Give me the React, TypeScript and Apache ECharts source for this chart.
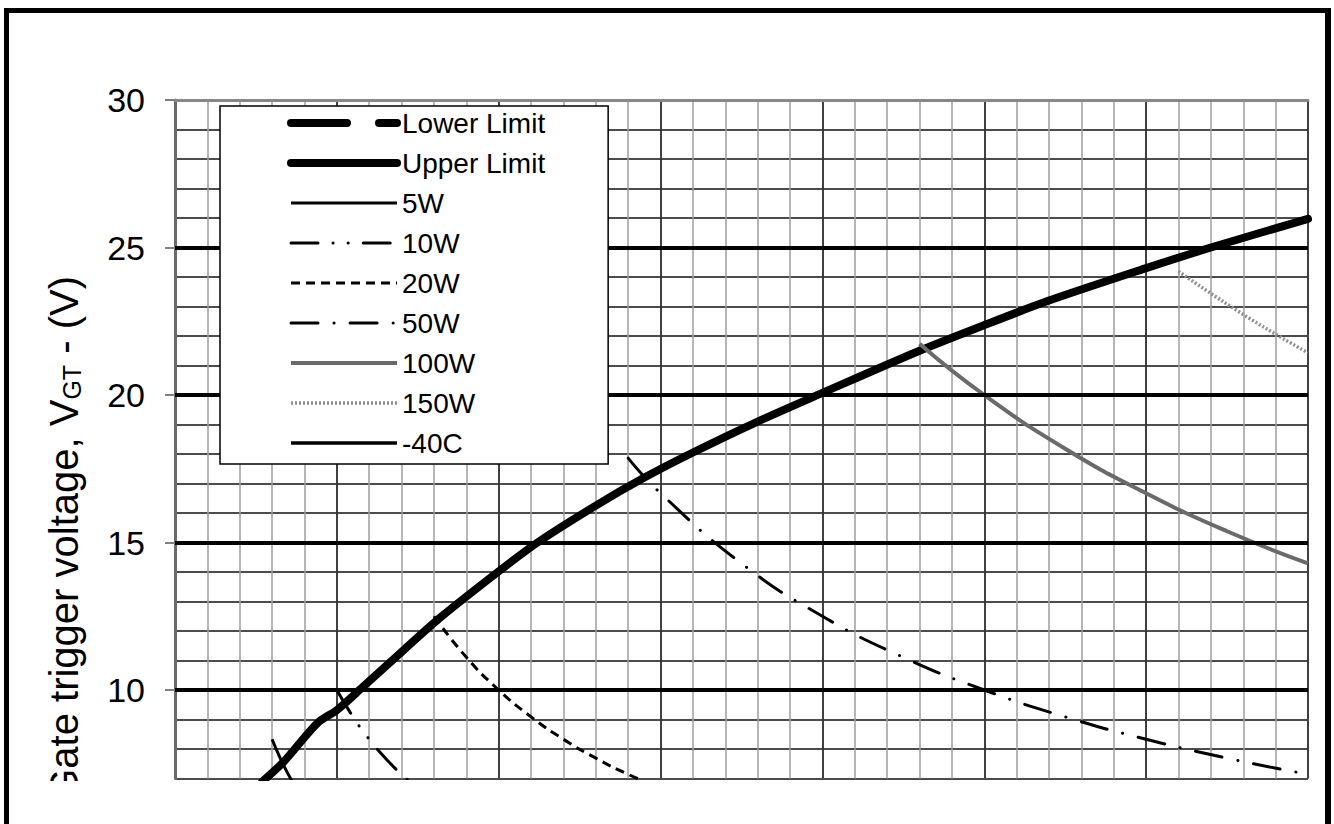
import React, { useEffect, useRef } from 'react';
import * as echarts from 'echarts';

// ---- data ----
const X_MIN = 0;
const X_MAX = 7;
const Y_MIN = 7;
const Y_MAX = 30;
const Y_LABEL_VALUES = [10, 15, 20, 25, 30];
const Y_MAJOR_LINES = [10, 15, 20, 25];

const LEGEND_NAMES = ['Lower Limit', 'Upper Limit', '5W', '10W', '20W', '50W', '100W', '150W', '-40C'];

const lowerLimit: number[][] = [];
const upperLimit = [
  [0.54, 6.9], [0.67, 7.56], [0.88, 8.88], [1.0, 9.32], [1.16, 10.1], [1.41, 11.34],
  [1.64, 12.46], [2.0, 14.02], [2.24, 15.0], [2.6, 16.25], [2.9, 17.2], [3.2, 18.05],
  [3.6, 19.1], [4.0, 20.07], [4.6, 21.5], [5.0, 22.37], [5.4, 23.2], [6.0, 24.3],
  [6.4, 25.0], [7.0, 25.97],
];
const w5 = [[0.6, 8.33], [0.65, 7.69], [0.7, 7.14], [0.75, 6.67]];
const w10 = [[1.0, 10.0], [1.1, 9.09], [1.2, 8.33], [1.3, 7.69], [1.4, 7.14], [1.5, 6.67]];
const w20 = [[1.6, 12.5], [1.8, 11.11], [2.0, 10.0], [2.2, 9.09], [2.4, 8.33], [2.6, 7.69], [2.8, 7.14], [3.0, 6.67]];
const w50 = [[2.8, 17.86], [3.0, 16.67], [3.5, 14.29], [4.0, 12.5], [4.5, 11.11], [5.0, 10.0], [5.5, 9.09], [6.0, 8.33], [6.5, 7.69], [7.0, 7.14]];
const w100 = [[4.6, 21.74], [5.0, 20.0], [5.5, 18.18], [6.0, 16.67], [6.5, 15.38], [7.0, 14.29]];
const w150 = [[6.2, 24.19], [6.6, 22.73], [7.0, 21.43]];
const minus40C: number[][] = [];

const SERIES_DATA = [lowerLimit, upperLimit, w5, w10, w20, w50, w100, w150, minus40C];

// ---- styles ----
const FONT = "'Liberation Sans', Arial, Helvetica, sans-serif";

const LINE_STYLES: any[] = [
  { color: '#000', width: 8, type: [56, 32], cap: 'round' },
  { color: '#000', width: 8, type: 'solid', cap: 'round', join: 'round' },
  { color: '#000', width: 3, type: 'solid' },
  { color: '#000', width: 3, type: [27, 15, 0.1, 15, 0.1, 15], cap: 'round' },
  { color: '#000', width: 3, type: [9, 6], cap: 'butt' },
  { color: '#000', width: 3, type: [27, 16, 0.1, 16], cap: 'round' },
  { color: '#6a6a6a', width: 4, type: 'solid' },
  { color: '#8f8f8f', width: 3.5, type: [2, 2] },
  { color: '#000', width: 3.5, type: 'solid' },
];

export default function App() {
  const ref = useRef<HTMLDivElement>(null);

  useEffect(() => {
    if (!ref.current) return;
    const chart = echarts.init(ref.current, null, { renderer: 'svg' });

    const dataSeries = LEGEND_NAMES.map((name, i) => ({
      name,
      type: 'line',
      data: SERIES_DATA[i],
      symbol: 'none',
      smooth: i === 1 ? 0.3 : 0.5,
      clip: true,
      z: 3,
      xAxisIndex: 0,
      yAxisIndex: 0,
      lineStyle: LINE_STYLES[i],
      emphasis: { disabled: true },
    }));

    const option: any = {
      animation: false,
      backgroundColor: '#fff',
      grid: { left: 175, right: 26, top: 100, bottom: 2.5, containLabel: false },
      tooltip: { show: false },
      xAxis: [
        {
          type: 'value', min: X_MIN, max: X_MAX, interval: 0.2, position: 'bottom',
          axisLine: { show: false }, axisTick: { show: false }, axisLabel: { show: false },
          splitLine: { show: true, lineStyle: { color: '#9e9e9e', width: 1.5 } },
        },
        {
          type: 'value', min: X_MIN, max: X_MAX, interval: 1, position: 'top',
          axisLine: { show: true, lineStyle: { color: '#888', width: 3 } },
          axisTick: { show: false }, axisLabel: { show: false },
          splitLine: { show: true, lineStyle: { color: '#1a1a1a', width: 1.5 } },
        },
      ],
      yAxis: [
        {
          type: 'value', min: Y_MIN, max: Y_MAX, interval: 1, position: 'left',
          axisLine: { show: true, lineStyle: { color: '#6a6a6a', width: 3 } },
          axisTick: { show: true, length: 10, customValues: Y_LABEL_VALUES, lineStyle: { color: '#808080', width: 2 } },
          axisLabel: { customValues: Y_LABEL_VALUES, fontSize: 34, color: '#000', margin: 30, fontFamily: FONT },
          splitLine: { show: false },
        },
        {
          type: 'value', min: Y_MIN, max: Y_MAX, interval: 1, position: 'right',
          axisLine: { show: false }, axisTick: { show: false }, axisLabel: { show: false },
          splitLine: { show: true, lineStyle: { color: '#111', width: 1.5 } },
        },
      ],
      legend: {
        orient: 'vertical', left: 220, top: 106,
        padding: [2, 63, 6, 67],
        itemWidth: 106, itemHeight: 30, itemGap: 10,
        backgroundColor: '#fff', borderColor: '#000', borderWidth: 1.5, borderRadius: 0,
        textStyle: { fontSize: 28, color: '#000', fontFamily: FONT, lineHeight: 30 },
        itemStyle: { opacity: 0 },
        selectedMode: false,
        z: 10,
        data: LEGEND_NAMES.map((name, i) => ({ name, lineStyle: LINE_STYLES[i] })),
      },
      graphic: [
        {
          type: 'text', x: 64, y: 276, rotation: Math.PI / 2, z: 10,
          style: {
            text: '{a|Gate trigger voltage, V}{b|GT}{a| - (V)}',
            align: 'right', verticalAlign: 'middle',
            rich: {
              a: { fontSize: 40, fontFamily: FONT, fill: '#000', lineHeight: 40, verticalAlign: 'bottom' },
              b: { fontSize: 25, fontFamily: FONT, fill: '#000', lineHeight: 23, verticalAlign: 'bottom' },
            },
          },
        },
      ],
      series: [
        {
          name: 'major-grid', type: 'line', data: [], z: 1, silent: true,
          xAxisIndex: 0, yAxisIndex: 0,
          markLine: {
            silent: true, symbol: ['none', 'none'], label: { show: false },
            lineStyle: { color: '#000', width: 4, type: 'solid' },
            emphasis: { disabled: true },
            data: Y_MAJOR_LINES.map((v) => ({ yAxis: v })),
          },
        },
        ...dataSeries,
      ],
    };

    chart.setOption(option);
    return () => chart.dispose();
  }, []);

  return (
    <div style={{ position: 'fixed', left: 0, top: 0, width: 1334, height: 824, overflow: 'hidden', background: '#fff' }}>
      <div ref={ref} style={{ position: 'absolute', left: 0, top: 0, width: 1334, height: 781 }} />
      <div
        style={{
          position: 'absolute', left: 4, top: 8, width: 1316, height: 900,
          borderLeft: '5px solid #000', borderTop: '5px solid #000', borderRight: '6px solid #000',
          pointerEvents: 'none',
        }}
      />
    </div>
  );
}
